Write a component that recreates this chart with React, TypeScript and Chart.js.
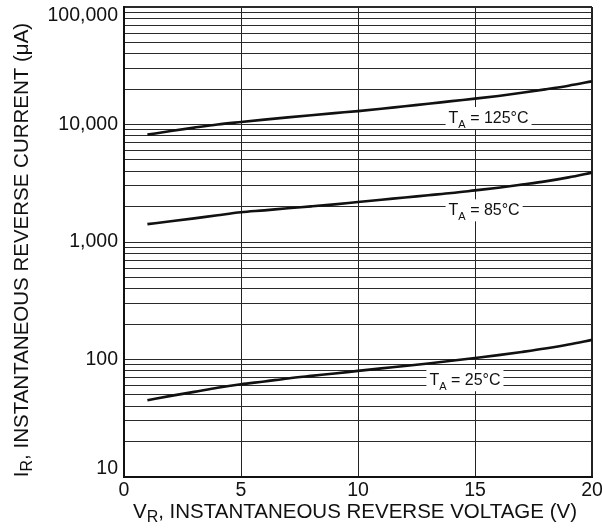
import React, { useEffect, useRef } from 'react';
import { Chart, registerables } from 'chart.js';

Chart.register(...registerables);

// ---- data ----
const voltages = [1, 2, 3, 4, 5, 6, 7, 8, 9, 10, 11, 12, 13, 14, 15, 16, 17, 18, 19, 20];
const current125 = [8200, 8800, 9400, 10000, 10500, 11000, 11500, 12000, 12500, 13000, 13600, 14300, 15000, 15800, 16600, 17500, 18600, 19900, 21400, 23300];
const current85 = [1420, 1500, 1590, 1690, 1790, 1860, 1940, 2010, 2090, 2190, 2290, 2390, 2500, 2610, 2750, 2900, 3080, 3280, 3550, 3900];
const current25 = [45, 49, 53, 57.5, 61.5, 65, 69, 72.5, 76, 80, 84, 88, 92.5, 97.5, 103, 109, 116, 124, 134, 147];

const yDecades = [10, 100, 1000, 10000];
const yMultipliers = [1, 2, 3, 4, 5, 6, 7, 8, 9];
const yMin = 10;
const yMax = 100000;
const xMin = 0;
const xMax = 20;
const xStep = 5;

const labelTemps = ['125°C', '85°C', '25°C'];
const labelX = [15.58, 15.39, 14.57];
const labelY = [11580, 1897, 68];

const xTitleParts = [
  { t: 'V' },
  { t: 'R', sub: true },
  { t: ', INSTANTANEOUS REVERSE VOLTAGE (V)' },
];
const yTitleParts = [
  { t: 'I' },
  { t: 'R', sub: true },
  { t: ', INSTANTANEOUS REVERSE CURRENT (μA)' },
];

const FONT = 'Arial, "Liberation Sans", Helvetica, sans-serif';
const INK = '#111';

const yTickValues: number[] = [];
yDecades.forEach((d) => yMultipliers.forEach((m) => yTickValues.push(d * m)));
yTickValues.push(yMax);

type Part = { t: string; sub?: boolean };

function drawParts(ctx: CanvasRenderingContext2D, parts: Part[], cx: number, baseY: number, size: number, subSize: number, subDrop: number) {
  const widths = parts.map((p) => {
    ctx.font = `${p.sub ? subSize : size}px ${FONT}`;
    return ctx.measureText(p.t).width;
  });
  const total = widths.reduce((a, b) => a + b, 0);
  let x = cx - total / 2;
  ctx.textAlign = 'left';
  ctx.textBaseline = 'alphabetic';
  parts.forEach((p, i) => {
    ctx.font = `${p.sub ? subSize : size}px ${FONT}`;
    ctx.fillText(p.t, x, baseY + (p.sub ? subDrop : 0));
    x += widths[i];
  });
  return total;
}

const annotatePlugin = {
  id: 'annotate',
  beforeDraw(chart: any) {
    const ctx = chart.ctx;
    ctx.save();
    ctx.fillStyle = '#fff';
    ctx.fillRect(0, 0, chart.width, chart.height);
    ctx.restore();
  },
  afterDatasetsDraw(chart: any) {
    const ctx: CanvasRenderingContext2D = chart.ctx;
    const xs = chart.scales.x;
    const ys = chart.scales.y;
    ctx.save();
    labelTemps.forEach((temp, i) => {
      const cx = xs.getPixelForValue(labelX[i]);
      const cy = ys.getPixelForValue(labelY[i]);
      const parts: Part[] = [{ t: 'T' }, { t: 'A', sub: true }, { t: ' = ' + temp }];
      const widths = parts.map((p) => {
        ctx.font = `${p.sub ? 11 : 16}px ${FONT}`;
        return ctx.measureText(p.t).width;
      });
      const total = widths.reduce((a, b) => a + b, 0);
      ctx.fillStyle = '#fff';
      ctx.fillRect(cx - total / 2 - 3, cy - 10, total + 6, 22);
      ctx.fillStyle = INK;
      drawParts(ctx, parts, cx, cy + 6, 16, 11, 5);
    });
    ctx.restore();
  },
  afterDraw(chart: any) {
    const ctx: CanvasRenderingContext2D = chart.ctx;
    ctx.save();
    ctx.fillStyle = INK;
    // x title
    drawParts(ctx, xTitleParts, 355, 518, 20.5, 16, 4);
    // y title (rotated)
    ctx.translate(28, 250);
    ctx.rotate(-Math.PI / 2);
    drawParts(ctx, yTitleParts, 0, 0, 20.5, 16, 4);
    ctx.restore();
  },
};

export default function App() {
  const canvasRef = useRef<HTMLCanvasElement | null>(null);

  useEffect(() => {
    const canvas = canvasRef.current;
    if (!canvas) return;
    const mk = (arr: number[]) => voltages.map((v, i) => ({ x: v, y: arr[i] }));
    const ds = (label: string, arr: number[]) => ({
      label,
      data: mk(arr),
      borderColor: INK,
      backgroundColor: INK,
      borderWidth: 2.6,
      pointRadius: 0,
      tension: 0.4,
      cubicInterpolationMode: 'monotone' as const,
      fill: false,
    });
    const chart = new Chart(canvas, {
      type: 'line',
      data: {
        datasets: [ds('125', current125), ds('85', current85), ds('25', current25)],
      },
      options: {
        animation: false,
        responsive: false,
        maintainAspectRatio: false,
        devicePixelRatio: 1,
        layout: { padding: { top: 7, right: 10, bottom: 0, left: 0 } },
        plugins: {
          legend: { display: false },
          tooltip: { enabled: false },
        },
        scales: {
          x: {
            type: 'linear',
            min: xMin,
            max: xMax,
            ticks: {
              stepSize: xStep,
              color: INK,
              padding: 2,
              autoSkip: false,
              font: { family: FONT, size: 19.5 },
              maxRotation: 0,
            },
            grid: {
              drawTicks: false,
              color: '#222',
              lineWidth: (c: any) => (c.tick && c.tick.value === xMax ? 2 : 1),
            },
            border: { display: true, color: INK, width: 2 },
            afterFit: (scale: any) => {
              scale.height = 52;
              scale.paddingLeft = 0;
              scale.paddingRight = 0;
            },
          },
          y: {
            type: 'logarithmic',
            min: yMin,
            max: yMax,
            afterBuildTicks: (scale: any) => {
              scale.ticks = yTickValues.map((v) => ({ value: v }));
            },
            ticks: {
              color: INK,
              padding: 6,
              autoSkip: false,
              font: { family: FONT, size: 19.5, lineHeight: 0.84 },
              callback: (value: any) => {
                const v = Number(value);
                const l = Math.log10(v);
                if (Math.abs(l - Math.round(l)) > 1e-9) return '';
                const s = v.toLocaleString('en-US');
                if (v === yMax) return ['', s];
                if (v === yMin) return [s, ''];
                return s;
              },
            },
            grid: {
              drawTicks: false,
              color: '#2a2a2a',
              lineWidth: (c: any) => (c.tick && c.tick.value === yMax ? 2 : 1),
            },
            border: { display: true, color: INK, width: 2 },
            afterFit: (scale: any) => {
              scale.width = 124;
              scale.paddingTop = 0;
              scale.paddingBottom = 0;
            },
          },
        },
      },
      plugins: [annotatePlugin],
    });
    return () => chart.destroy();
  }, []);

  return (
    <div style={{ position: 'absolute', left: 0, top: 0, width: 602, height: 529 }}>
      <canvas ref={canvasRef} width={602} height={529} style={{ display: 'block', width: 602, height: 529 }} />
    </div>
  );
}
